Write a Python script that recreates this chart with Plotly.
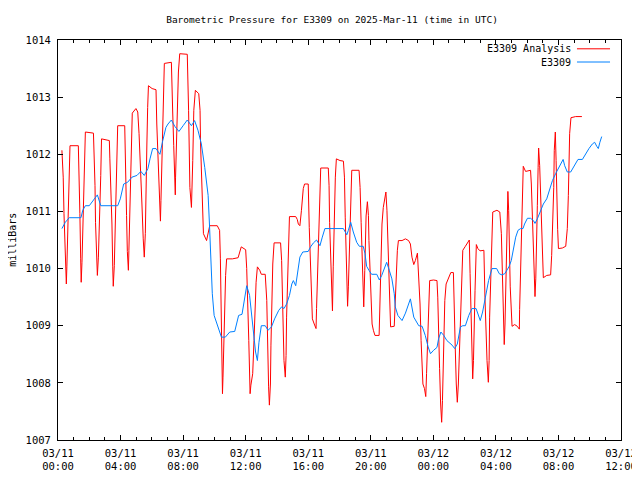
import pandas as pd
import plotly.graph_objects as go

# ---- data (minutes after 2025-03-11 00:00 UTC, millibars) ----
analysis_min = [
    15, 18, 20, 23, 26, 29, 32, 34, 37, 40, 43, 46, 78, 79, 84, 87, 89, 92, 95, 98, 102, 105,
    136, 138, 142, 144, 148, 151, 155, 160, 164, 167, 197, 199, 203, 207, 210, 212, 216, 219,
    222, 225, 229, 256, 257, 260, 263, 266, 270, 272, 275, 279, 281, 285, 299, 306, 311, 315,
    322, 327, 331, 335, 339, 341, 344, 347, 361, 376, 379, 385, 389, 393, 395, 399, 402, 405,
    408, 435, 436, 440, 444, 446, 450, 451, 454, 458, 462, 467, 496, 501, 506, 512, 514, 517,
    521, 527, 540, 545, 547, 550, 554, 558, 570, 576, 582, 611, 620, 623, 627, 631, 633, 636,
    639, 643, 647, 669, 691, 703, 720, 724, 732, 737, 740, 747, 752, 756, 760, 765, 774, 780,
    795, 801, 804, 808, 811, 815, 817, 821, 824, 829, 854, 858, 861, 865, 867, 872, 875, 877,
    881, 885, 888, 912, 918, 922, 928, 934, 937, 941, 946, 960, 964, 968, 972, 976, 983, 990,
    992, 996, 1000, 1004, 1008, 1037, 1040, 1042, 1046, 1050, 1053, 1056, 1060, 1064, 1068,
    1082, 1095, 1099, 1102, 1106, 1109, 1111, 1114, 1118, 1122, 1124, 1127, 1155, 1159, 1163,
    1166, 1170, 1173, 1177, 1179, 1182, 1187, 1191, 1193, 1197, 1201, 1205, 1210, 1216, 1232,
    1235, 1239, 1243, 1248, 1252, 1258, 1262, 1266, 1270, 1274, 1276, 1290, 1294, 1297, 1302,
    1306, 1320, 1333, 1345, 1352, 1358, 1365, 1371, 1379, 1384, 1389, 1393, 1397, 1400, 1406,
    1411, 1414, 1418, 1422, 1426, 1441, 1454, 1457, 1462, 1464, 1468, 1472, 1475, 1477, 1480,
    1484, 1489, 1499, 1507, 1517, 1521, 1524, 1528, 1532, 1536, 1540, 1544, 1547, 1553, 1563,
    1576, 1578, 1581, 1585, 1588, 1591, 1594, 1596, 1600, 1605, 1611, 1619, 1634, 1638, 1642,
    1646, 1651, 1654, 1656, 1660, 1664, 1668, 1684, 1695, 1701, 1706, 1710, 1712, 1715, 1718,
    1721, 1724, 1726, 1729, 1732, 1735, 1742, 1752, 1762, 1770, 1771, 1774, 1778, 1781, 1785,
    1794, 1813, 1816, 1822, 1826, 1830, 1833, 1835, 1839, 1842, 1844, 1848, 1852, 1858, 1862,
    1875, 1890, 1894, 1899, 1902, 1904, 1908, 1911, 1913, 1917, 1920, 1935, 1948, 1954, 1958,
    1961, 1963, 1968, 1986, 2010,
]
analysis_mb = [
    1012.07, 1011.77, 1011.60, 1010.96, 1010.61, 1010.03, 1009.73, 1010.03, 1010.64, 1011.25,
    1011.83, 1012.15, 1012.15, 1011.77, 1010.96, 1010.17, 1009.76, 1010.11, 1010.75, 1011.42,
    1012.07, 1012.39, 1012.37, 1012.10, 1011.45, 1010.81, 1010.20, 1009.88, 1010.20, 1010.81,
    1011.63, 1012.27, 1012.24, 1011.92, 1011.42, 1010.78, 1010.03, 1009.69, 1010.05, 1010.75,
    1011.45, 1012.15, 1012.50, 1012.50, 1012.18, 1011.57, 1010.93, 1010.30, 1009.97, 1010.32,
    1010.96, 1011.72, 1012.36, 1012.72, 1012.80, 1012.74, 1012.36, 1011.77, 1011.13, 1010.52,
    1010.20, 1010.61, 1011.34, 1012.18, 1012.82, 1013.20, 1013.15, 1013.13, 1012.53, 1011.72,
    1011.16, 1010.83, 1011.19, 1011.89, 1012.56, 1013.26, 1013.59, 1013.61, 1013.29, 1012.74,
    1012.15, 1011.60, 1011.29, 1011.60, 1012.21, 1012.82, 1013.44, 1013.76, 1013.75, 1012.77,
    1011.42, 1011.07, 1011.34, 1011.89, 1012.77, 1013.12, 1013.06, 1012.77, 1012.18, 1011.69,
    1010.93, 1010.61, 1010.49, 1010.61, 1010.75, 1010.75, 1010.67, 1010.17, 1008.80, 1007.81,
    1008.10, 1008.71, 1009.33, 1009.88, 1010.17, 1010.17, 1010.19, 1010.38, 1010.33, 1010.00,
    1008.74, 1007.81, 1007.96, 1008.16, 1008.74, 1009.38, 1009.76, 1010.03, 1009.97, 1009.90,
    1009.90, 1009.44, 1008.51, 1007.93, 1007.61, 1007.98, 1008.66, 1009.38, 1010.08, 1010.45,
    1010.45, 1010.14, 1009.58, 1008.98, 1008.39, 1008.10, 1008.48, 1009.15, 1009.91, 1010.55,
    1010.91, 1010.91, 1010.86, 1010.78, 1010.75, 1011.02, 1011.20, 1011.40, 1011.48, 1011.48,
    1010.72, 1010.03, 1009.44, 1009.12, 1009.03, 1008.95, 1009.30, 1010.03, 1010.81, 1011.40,
    1011.76, 1011.76, 1011.45, 1010.81, 1010.20, 1009.73, 1009.26, 1010.03, 1010.90, 1011.60,
    1011.92, 1011.89, 1011.88, 1011.60, 1010.90, 1010.32, 1009.68, 1009.34, 1009.68, 1010.38,
    1011.07, 1011.42, 1011.72, 1011.72, 1011.42, 1010.81, 1010.38, 1009.91, 1009.33, 1009.97,
    1010.49, 1010.92, 1011.17, 1010.93, 1010.49, 1009.91, 1009.33, 1009.03, 1008.92, 1008.83,
    1008.83, 1009.44, 1010.20, 1010.78, 1011.07, 1011.19, 1011.34, 1011.02, 1010.49, 1009.79,
    1009.24, 1008.98, 1008.99, 1009.44, 1009.91, 1010.32, 1010.49, 1010.49, 1010.52, 1010.49,
    1010.43, 1010.20, 1010.07, 1010.14, 1010.27, 1009.91, 1009.38, 1008.74, 1008.28, 1007.98,
    1007.90, 1007.76, 1008.16, 1008.86, 1009.41, 1009.79, 1009.80, 1009.79, 1009.50, 1008.86,
    1008.25, 1007.63, 1007.31, 1007.69, 1008.22, 1008.80, 1009.44, 1009.73, 1009.85, 1009.93,
    1009.93, 1009.38, 1008.63, 1007.98, 1007.66, 1007.98, 1008.51, 1008.98, 1009.73, 1010.32,
    1010.39, 1010.49, 1010.50, 1009.91, 1009.27, 1008.51, 1008.07, 1008.39, 1008.98, 1009.62,
    1010.42, 1010.35, 1010.31, 1010.32, 1009.50, 1008.86, 1008.39, 1008.01, 1008.39, 1009.15,
    1009.91, 1010.61, 1010.99, 1011.02, 1010.99, 1010.61, 1009.79, 1008.98, 1008.67, 1009.03,
    1009.68, 1010.33, 1010.99, 1011.35, 1011.02, 1010.46, 1009.68, 1008.99, 1009.02, 1008.99,
    1008.94, 1009.28, 1009.91, 1010.64, 1011.44, 1011.79, 1011.70, 1011.72, 1011.48, 1010.61,
    1009.79, 1009.51, 1009.82, 1010.49, 1011.10, 1011.77, 1012.11, 1011.80, 1011.15, 1010.14,
    1009.84, 1009.88, 1009.89, 1010.23, 1010.81, 1011.42, 1012.07, 1012.39, 1011.89, 1011.25,
    1010.68, 1010.35, 1010.36, 1010.39, 1010.70, 1011.28, 1011.77, 1012.36, 1012.64, 1012.66,
    1012.66,
]

station_min = [
    15, 28, 43, 88, 95, 105, 120, 142, 151, 164, 229, 239, 252, 267, 284, 303, 318, 331, 345,
    353, 363, 376, 391, 402, 414, 422, 435, 448, 464, 480, 496, 512, 524, 537, 550, 563, 576,
    581, 586, 592, 599, 611, 627, 642, 659, 678, 693, 706, 716, 724, 735, 744, 752, 758, 765,
    771, 780, 795, 806, 819, 831, 847, 858, 867, 877, 888, 897, 903, 912, 920, 928, 939, 948,
    960, 969, 980, 992, 1005, 1014, 1024, 1095, 1101, 1108, 1114, 1123, 1133, 1146, 1156, 1171,
    1178, 1184, 1193, 1203, 1223, 1233, 1242, 1251, 1261, 1271, 1281, 1290, 1294, 1304, 1320,
    1333, 1352, 1365, 1384, 1397, 1409, 1420, 1429, 1441, 1454, 1460, 1469, 1480, 1492, 1512,
    1522, 1532, 1544, 1553, 1563, 1576, 1588, 1604, 1611, 1620, 1629, 1640, 1652, 1665, 1683,
    1693, 1703, 1714, 1721, 1730, 1739, 1747, 1756, 1765, 1775, 1784, 1790, 1801, 1813, 1824,
    1830, 1839, 1852, 1862, 1875, 1884, 1897, 1909, 1922, 1931, 1938, 1944, 1954, 1967, 1980,
    1995, 2012, 2024, 2037, 2050, 2059, 2067, 2073, 2079, 2086,
]
station_mb = [
    1010.70, 1010.81, 1010.89, 1010.89, 1011.02, 1011.10, 1011.10, 1011.25, 1011.29, 1011.10,
    1011.10, 1011.22, 1011.48, 1011.51, 1011.60, 1011.63, 1011.70, 1011.63, 1011.75, 1011.92,
    1012.10, 1012.10, 1012.00, 1012.24, 1012.47, 1012.53, 1012.60, 1012.49, 1012.40, 1012.50,
    1012.60, 1012.50, 1012.59, 1012.42, 1012.18, 1011.77, 1011.28, 1010.78, 1010.03, 1009.56,
    1009.18, 1009.03, 1008.80, 1008.80, 1008.89, 1008.90, 1009.18, 1009.20, 1009.50, 1009.70,
    1009.53, 1009.15, 1008.86, 1008.54, 1008.39, 1008.71, 1009.00, 1009.00, 1008.92, 1008.98,
    1009.12, 1009.27, 1009.33, 1009.30, 1009.38, 1009.53, 1009.73, 1009.79, 1009.70, 1009.94,
    1010.20, 1010.29, 1010.30, 1010.30, 1010.38, 1010.45, 1010.50, 1010.40, 1010.55, 1010.70,
    1010.70, 1010.64, 1010.59, 1010.67, 1010.81, 1010.64, 1010.46, 1010.39, 1010.39, 1010.26,
    1010.04, 1009.97, 1009.90, 1009.90, 1009.80, 1009.88, 1010.00, 1010.11, 1009.97, 1009.82,
    1009.56, 1009.33, 1009.18, 1009.09, 1009.22, 1009.47, 1009.15, 1009.00, 1008.99, 1008.83,
    1008.63, 1008.51, 1008.57, 1008.62, 1008.77, 1008.89, 1008.83, 1008.74, 1008.66, 1008.60,
    1008.68, 1008.98, 1009.00, 1009.00, 1009.18, 1009.30, 1009.30, 1009.21, 1009.09, 1009.24,
    1009.51, 1009.79, 1010.00, 1010.00, 1009.91, 1009.89, 1009.91, 1009.97, 1010.03, 1010.14,
    1010.35, 1010.55, 1010.67, 1010.70, 1010.70, 1010.78, 1010.88, 1010.88, 1010.84, 1010.79,
    1010.87, 1011.02, 1011.13, 1011.22, 1011.37, 1011.54, 1011.66, 1011.77, 1011.86, 1011.91,
    1011.80, 1011.69, 1011.69, 1011.80, 1011.91, 1011.91, 1012.01, 1012.10, 1012.18, 1012.21,
    1012.14, 1012.10, 1012.21, 1012.31,
]

series_names = ["E3309 Analysis", "E3309"]
series_colors = ["#ff0000", "#0080ff"]
title_text = "Barometric Pressure for E3309 on 2025-Mar-11 (time in UTC)"
y_label = "milliBars"
start = pd.Timestamp("2025-03-11 00:00")
end = pd.Timestamp("2025-03-12 12:00")

t_analysis = start + pd.to_timedelta(analysis_min, unit="m")
t_station = start + pd.to_timedelta(station_min, unit="m")

FONT = "DejaVu Sans Mono"

fig = go.Figure()
fig.add_trace(go.Scatter(x=t_analysis, y=analysis_mb, mode="lines", name=series_names[0],
                         line=dict(color=series_colors[0], width=1), showlegend=False))
fig.add_trace(go.Scatter(x=t_station, y=station_mb, mode="lines", name=series_names[1],
                         line=dict(color=series_colors[1], width=1), showlegend=False))

axis_common = dict(showline=True, linecolor="black", linewidth=1, mirror="allticks",
                   ticks="inside", tickcolor="black", showgrid=False, zeroline=False,
                   automargin=False, ticklabeloverflow="allow",
                   tickfont=dict(family=FONT, size=10.5, color="black"))

fig.update_xaxes(range=[start, end], tick0=start, dtick=4 * 3600 * 1000,
                 tickformat="%m/%d<br>%H:%M", ticklen=5, ticklabelstandoff=3,
                 minor=dict(dtick=3600 * 1000, ticks="inside", ticklen=3, tickcolor="black", showgrid=False),
                 **axis_common)
fig.update_yaxes(range=[1007, 1014], dtick=1, ticklen=5, tickformat="d", ticklabelstandoff=4,
                 **axis_common)

# gnuplot-style legend: text then line sample, top-right inside the frame
legend_rows = [0.978, 0.945]
for name, color, yy in zip(series_names, series_colors, legend_rows):
    fig.add_annotation(x=0.9147, y=yy, xref="paper", yref="paper", text=name, showarrow=False,
                       xanchor="right", yanchor="middle", font=dict(family=FONT, size=10, color="black"))
    fig.add_shape(type="line", xref="paper", yref="paper", x0=0.9218, x1=0.9805, y0=yy, y1=yy,
                  line=dict(color=color, width=1))

fig.add_annotation(x=-0.082, y=0.5, xref="paper", yref="paper", text=y_label, textangle=-90,
                   showarrow=False, xanchor="center", yanchor="middle",
                   font=dict(family=FONT, size=10, color="black"))

# the page body adds an 8px margin; size the figure so the page does not overflow the window
fig.update_layout(
    width=632, height=464,
    margin=dict(l=50, r=19, t=32, b=32, autoexpand=False),
    paper_bgcolor="white", plot_bgcolor="white",
    title=dict(text=title_text, x=0.5127, xanchor="center", y=0.9741, yanchor="middle",
               font=dict(family=FONT, size=9.5, color="black")),
)

fig.write_html("out.html")
